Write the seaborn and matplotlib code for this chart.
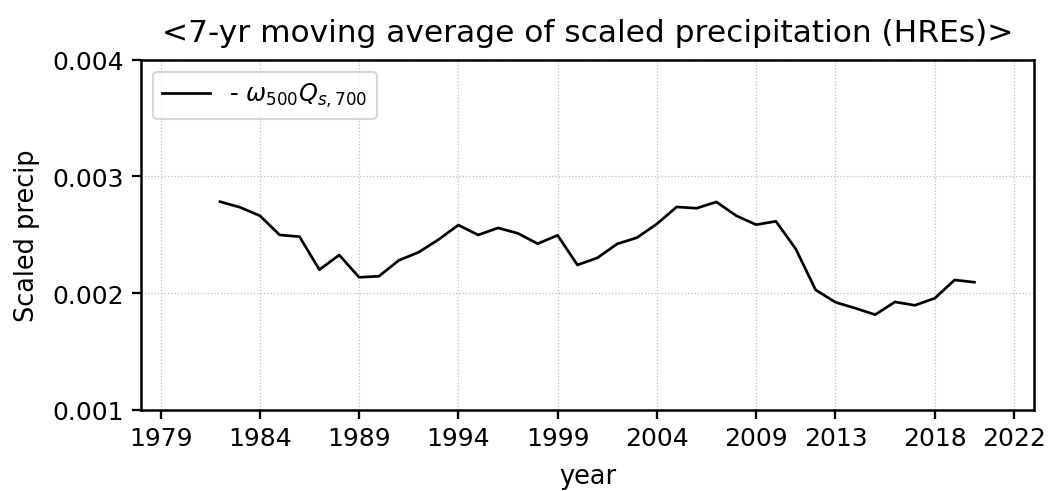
import numpy as np
import pandas as pd
import matplotlib
matplotlib.use('Agg')
import matplotlib.pyplot as plt
import seaborn as sns

# 7-yr moving average
years = list(range(1982, 2021))
precip = [0.002783, 0.002735, 0.002663, 0.002498, 0.002483, 0.002200, 0.002326,
          0.002135, 0.002144, 0.002280, 0.002350, 0.002458, 0.002583, 0.002498,
          0.002558, 0.002512, 0.002423, 0.002495, 0.002241, 0.002301, 0.002421,
          0.002475, 0.002592, 0.002738, 0.002727, 0.002781, 0.002663, 0.002586,
          0.002615, 0.002378, 0.002027, 0.001921, 0.001870, 0.001815, 0.001924,
          0.001895, 0.001955, 0.002112, 0.002093]
xticks = [1979, 1984, 1989, 1994, 1999, 2004, 2009, 2013, 2018, 2022]
yticks = [0.001, 0.002, 0.003, 0.004]

df = pd.DataFrame({'year': years, 'precip': precip})

plt.rcParams['font.family'] = ['DejaVu Sans']

fig = plt.figure(figsize=(1048 / 150, 492 / 150), dpi=150)
ax = fig.add_axes([0.1343, 0.1652, 0.8523, 0.7114])

sns.lineplot(data=df, x='year', y='precip', ax=ax, color='black', linewidth=1.3,
             label=r'- $\omega_{500}Q_{s,700}$')

ax.set_xlim(1978, 2023)
ax.set_ylim(0.001, 0.004)
ax.set_xticks(xticks)
ax.set_xticklabels([str(t) for t in xticks])
ax.set_yticks(yticks)
ax.tick_params(labelsize=12, width=1.1, length=4.5)
ax.grid(True, linestyle=':', color='0.75', linewidth=0.6)
for s in ax.spines.values():
    s.set_linewidth(1.2)

ax.set_xlabel('year', fontsize=12.3, labelpad=6)
ax.set_ylabel('Scaled precip', fontsize=12.3, labelpad=6)
ax.set_title('<7-yr moving average of scaled precipitation (HREs)>', fontsize=15, pad=9)
ax.legend(loc='upper left', fontsize=11.5)

fig.savefig('out.png', dpi=150)
